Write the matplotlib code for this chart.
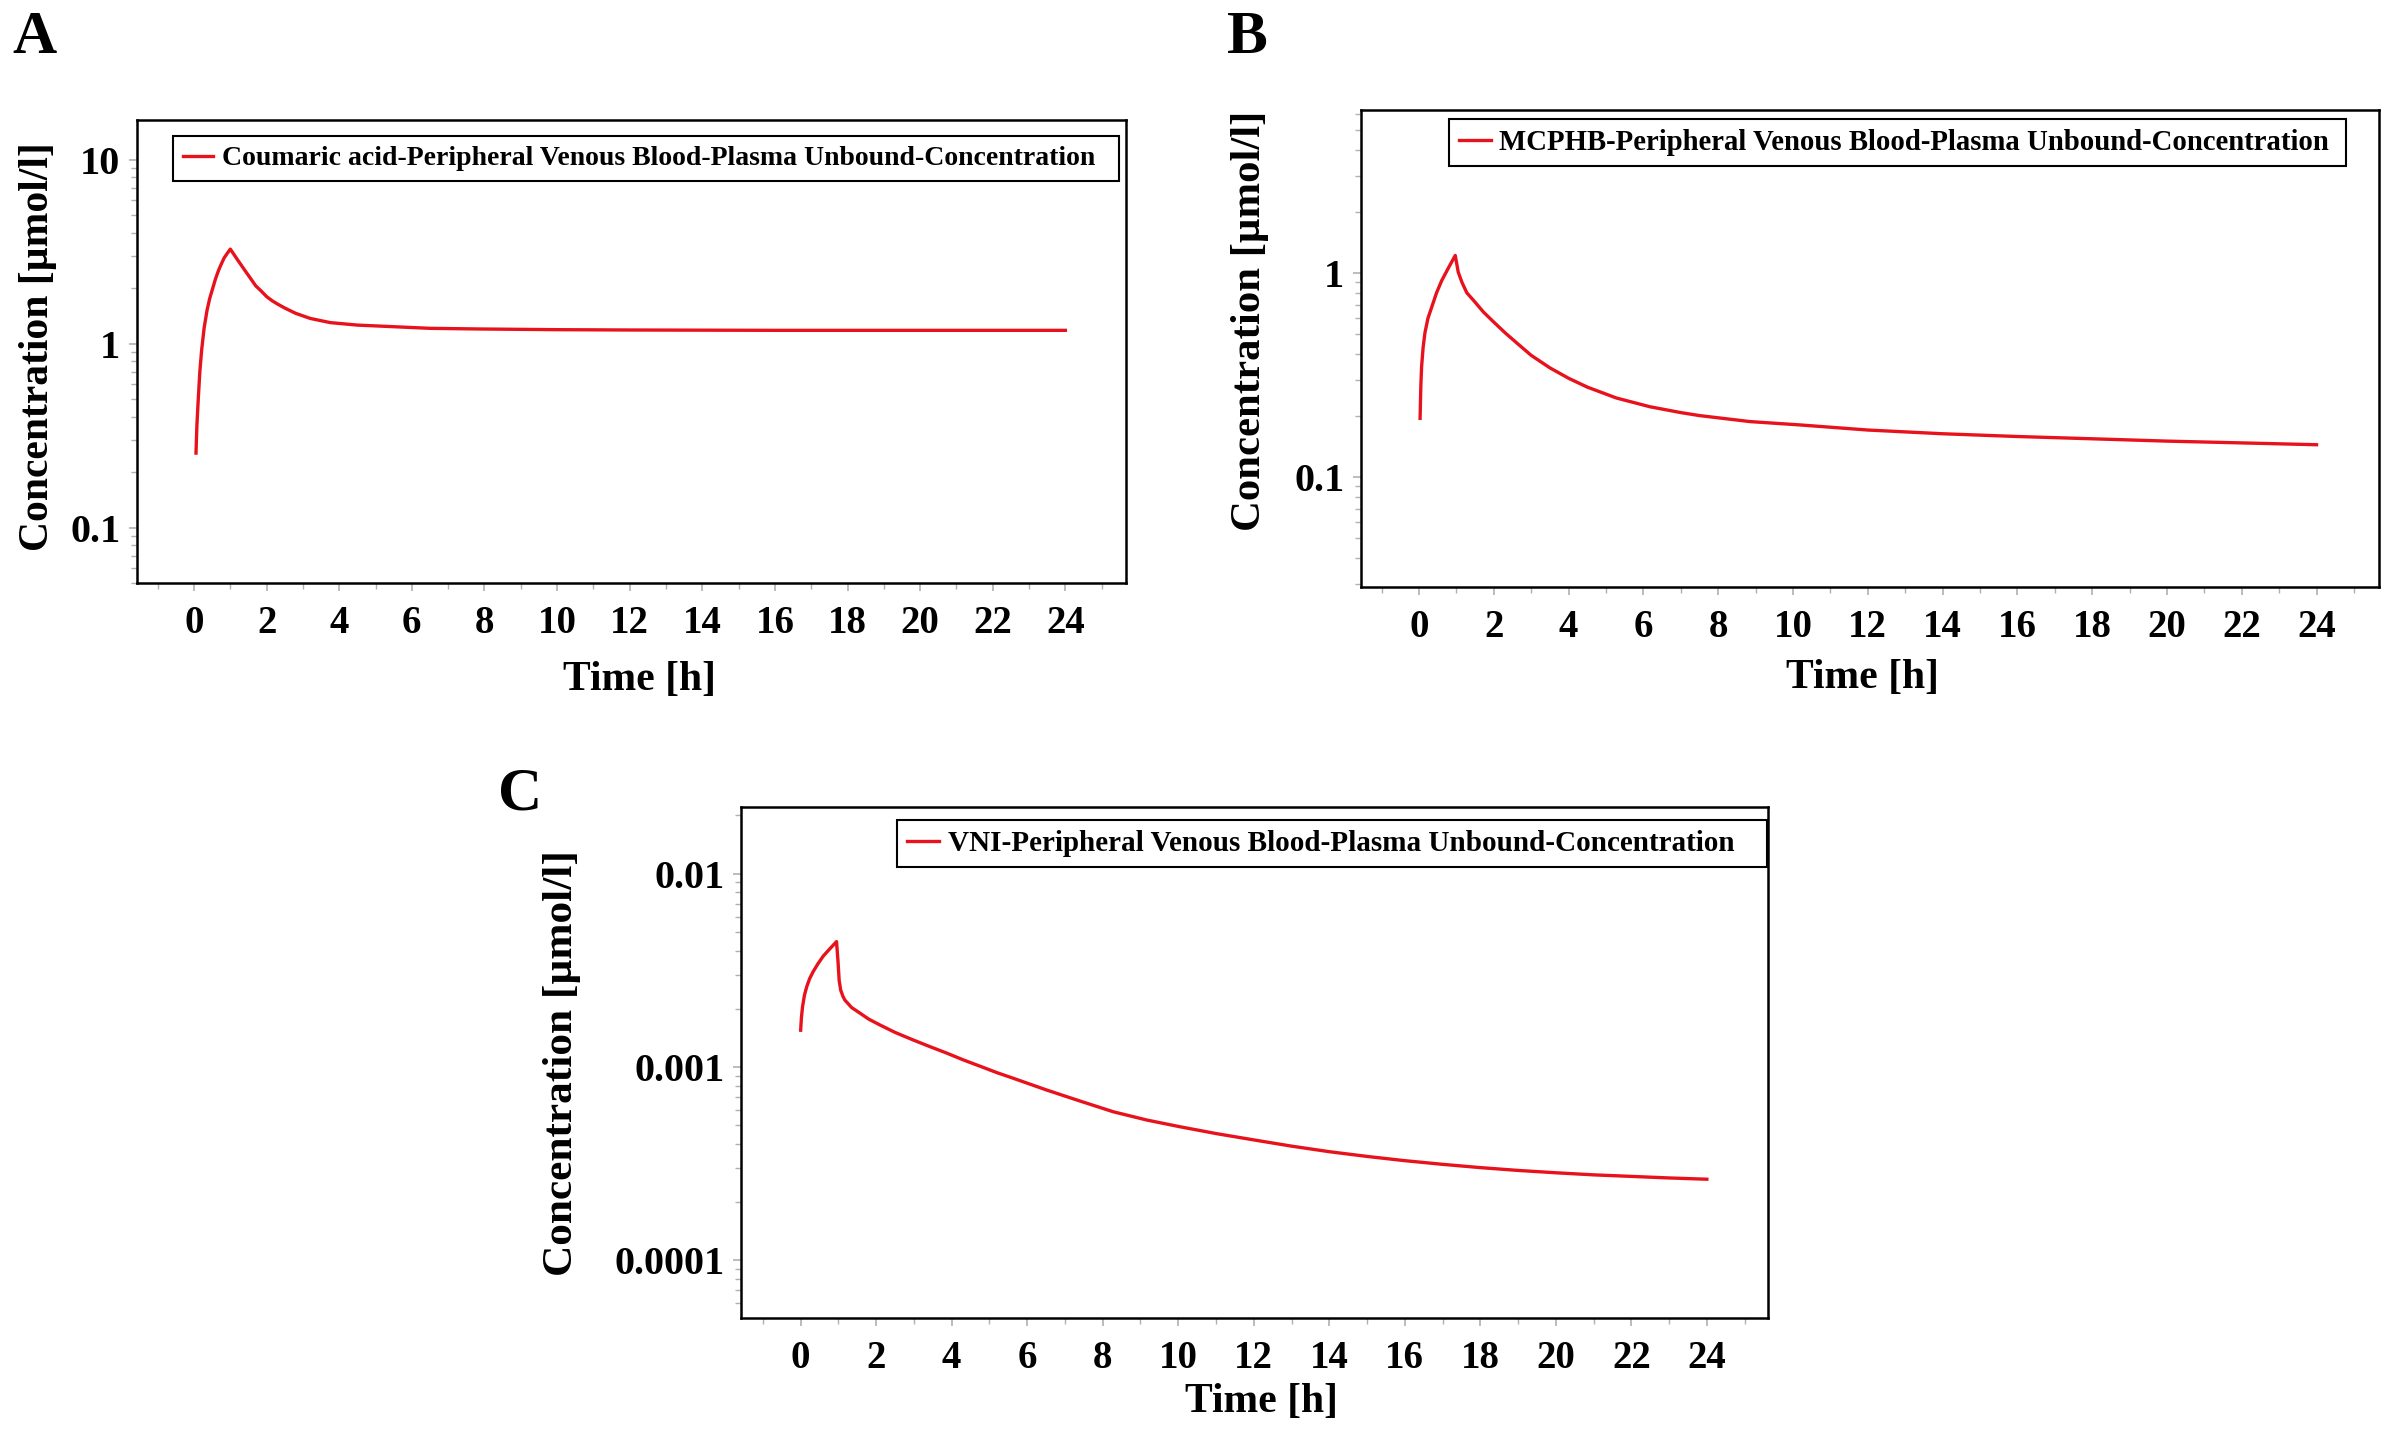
import matplotlib
matplotlib.use("Agg")
import matplotlib.pyplot as plt
from matplotlib.ticker import FixedLocator, NullFormatter, LogLocator

# ---------------- data ----------------
a_time = [0.055, 0.08, 0.12, 0.16, 0.21, 0.28, 0.36, 0.43, 0.5, 0.59, 0.68, 0.75, 0.83,
          0.92, 1.0, 1.1, 1.2, 1.3, 1.4, 1.55, 1.7, 1.85, 2.0, 2.15, 2.3, 2.5, 2.8,
          3.2, 3.75, 4.5, 5.1, 6.5, 7.9, 10, 12, 16, 20, 24]
a_conc = [0.254, 0.36, 0.51, 0.70, 0.92, 1.22, 1.52, 1.75, 1.95, 2.24, 2.51, 2.70, 2.92,
          3.10, 3.26, 3.05, 2.85, 2.67, 2.50, 2.27, 2.06, 1.93, 1.80, 1.71, 1.64, 1.56, 1.46,
          1.37, 1.30, 1.26, 1.245, 1.21, 1.20, 1.19, 1.185, 1.18, 1.18, 1.18]

b_time = [0.03, 0.05, 0.07, 0.11, 0.16, 0.24, 0.34, 0.47, 0.61, 0.8, 0.97, 1.05, 1.15,
          1.28, 1.5, 1.72, 2.0, 2.3, 2.61, 3.0, 3.5, 4.0, 4.5, 5.28, 6.18, 7.0, 7.51,
          8.85, 10.2, 12, 14, 16, 18, 20, 22, 24]
b_conc = [0.194, 0.28, 0.347, 0.43, 0.51, 0.60, 0.68, 0.80, 0.92, 1.07, 1.22, 1.01, 0.90,
          0.80, 0.72, 0.645, 0.575, 0.51, 0.455, 0.395, 0.343, 0.305, 0.276, 0.244, 0.221, 0.207, 0.20,
          0.187, 0.18, 0.17, 0.163, 0.158, 0.154, 0.15, 0.147, 0.144]

c_time = [0.0, 0.02, 0.05, 0.1, 0.16, 0.24, 0.33, 0.45, 0.6, 0.78, 0.95, 0.99, 1.02,
          1.06, 1.12, 1.17, 1.35, 1.57, 1.8, 2.1, 2.5, 2.98, 3.4, 3.87, 4.3, 4.75, 5.2,
          5.63, 6.52, 7.4, 8.28, 9.17, 10.05, 11, 12, 13, 14, 15, 16, 17, 18, 19, 20,
          21, 22, 23, 24]
c_conc = [0.00155, 0.0018, 0.00205, 0.00235, 0.0026, 0.00287, 0.00311, 0.0034, 0.00375,
          0.0041, 0.00445, 0.0035, 0.0028, 0.0025, 0.00232, 0.00222, 0.00203, 0.0019,
          0.00177, 0.00165, 0.00151, 0.00138, 0.00128, 0.00118, 0.00109, 0.00101, 0.000935,
          0.000875, 0.00076, 0.000667, 0.000587, 0.000532, 0.000491, 0.000453, 0.00042,
          0.00039, 0.000365, 0.000345, 0.000328, 0.000314, 0.000302, 0.000292, 0.000284,
          0.000277, 0.000272, 0.000267, 0.000263]

x_ticks = list(range(0, 25, 2))
x_ticklabels = [str(v) for v in x_ticks]

a_yticks = [0.1, 1, 10]
a_yticklabels = ["0.1", "1", "10"]
b_yticks = [0.1, 1]
b_yticklabels = ["0.1", "1"]
c_yticks = [0.0001, 0.001, 0.01]
c_yticklabels = ["0.0001", "0.001", "0.01"]

a_label = "Coumaric acid-Peripheral Venous Blood-Plasma Unbound-Concentration"
b_label = "MCPHB-Peripheral Venous Blood-Plasma Unbound-Concentration"
c_label = "VNI-Peripheral Venous Blood-Plasma Unbound-Concentration"

ylabel_text = "Concentration [µmol/l]"
xlabel_text = "Time [h]"

# ---------------- styling ----------------
FONT = "Liberation Serif"
plt.rcParams["font.family"] = [FONT, "DejaVu Serif"]
plt.rcParams["font.weight"] = "bold"
RED = "#e8121c"
TICKCOL = "#b0b0b0"

W, H = 2396, 1436
fig = plt.figure(figsize=(W / 100, H / 100), dpi=100)


def rect(l, r, t, b):
    return [l / W, 1 - b / H, (r - l) / W, (b - t) / H]


def make_panel(r, t, c, label, xlim, ylim, yticks, yticklabels,
               leg_xy, leg_size, leg_pad, ylab_xy, ylab_size, xlab_xy):
    ax = fig.add_axes(r)
    ax.plot(t, c, color=RED, lw=2.4, label=label + leg_pad,
            solid_joinstyle="round")
    ax.set_yscale("log")
    ax.set_xlim(*xlim)
    ax.set_ylim(*ylim)
    ax.xaxis.set_major_locator(FixedLocator(x_ticks))
    ax.set_xticklabels(x_ticklabels)
    ax.xaxis.set_minor_locator(FixedLocator([v + 1 for v in range(-2, 25, 2)]))
    ax.yaxis.set_major_locator(FixedLocator(yticks))
    ax.set_yticklabels(yticklabels)
    ax.yaxis.set_minor_locator(LogLocator(base=10, subs=range(2, 10), numticks=20))
    ax.yaxis.set_minor_formatter(NullFormatter())
    ax.tick_params(axis="both", which="major", direction="out", length=6,
                   width=1.2, color=TICKCOL)
    ax.tick_params(axis="both", which="minor", direction="out", length=4,
                   width=1.0, color=TICKCOL)
    ax.tick_params(axis="x", which="major", labelsize=28, pad=10)
    ax.tick_params(axis="y", which="major", labelsize=29, pad=6)
    for lab in ax.get_xticklabels() + ax.get_yticklabels():
        lab.set_fontweight("bold")
    for s in ax.spines.values():
        s.set_linewidth(1.8)
        s.set_color("black")
    leg = ax.legend(loc="upper left", bbox_to_anchor=leg_xy, borderaxespad=0,
                    frameon=True, fancybox=False, framealpha=1,
                    edgecolor="black", handlelength=1.1, handletextpad=0.3,
                    borderpad=0.35,
                    prop={"family": FONT, "weight": "bold", "size": leg_size})
    leg.get_frame().set_linewidth(1.5)
    ax.set_ylabel(ylabel_text, fontsize=ylab_size, fontweight="bold")
    ax.yaxis.set_label_coords(*ylab_xy)
    ax.yaxis.label.set_va("center")
    ax.set_xlabel(xlabel_text, fontsize=30, fontweight="bold")
    ax.xaxis.set_label_coords(*xlab_xy)
    ax.xaxis.label.set_va("center")
    return ax


make_panel(rect(137, 1126, 120, 583), a_time, a_conc, a_label,
           (-1.57, 25.67), (0.05, 16.4), a_yticks, a_yticklabels,
           (0.0364, 0.965), 20, "  ", (-0.10, 0.51), 30, (0.5076, -0.21))
make_panel(rect(1361, 2379, 110, 587), b_time, b_conc, b_label,
           (-1.55, 25.67), (0.0289, 6.3), b_yticks, b_yticklabels,
           (0.0864, 0.982), 20.7, " ", (-0.109, 0.558), 30.8, (0.493, -0.19))
make_panel(rect(741, 1768, 807, 1318), c_time, c_conc, c_label,
           (-1.58, 25.62), (5.04e-5, 0.0221), c_yticks, c_yticklabels,
           (0.152, 0.9746), 21, "   ", (-0.174, 0.498), 31.2, (0.507, -0.165))

for letter, x, y in [("A", 12, 53), ("B", 1227, 53), ("C", 498, 810)]:
    fig.text(x / W, 1 - y / H, letter, fontsize=44, fontweight="bold",
             ha="left", va="baseline", family=FONT)

fig.savefig("out.png", dpi=100, facecolor="white")
